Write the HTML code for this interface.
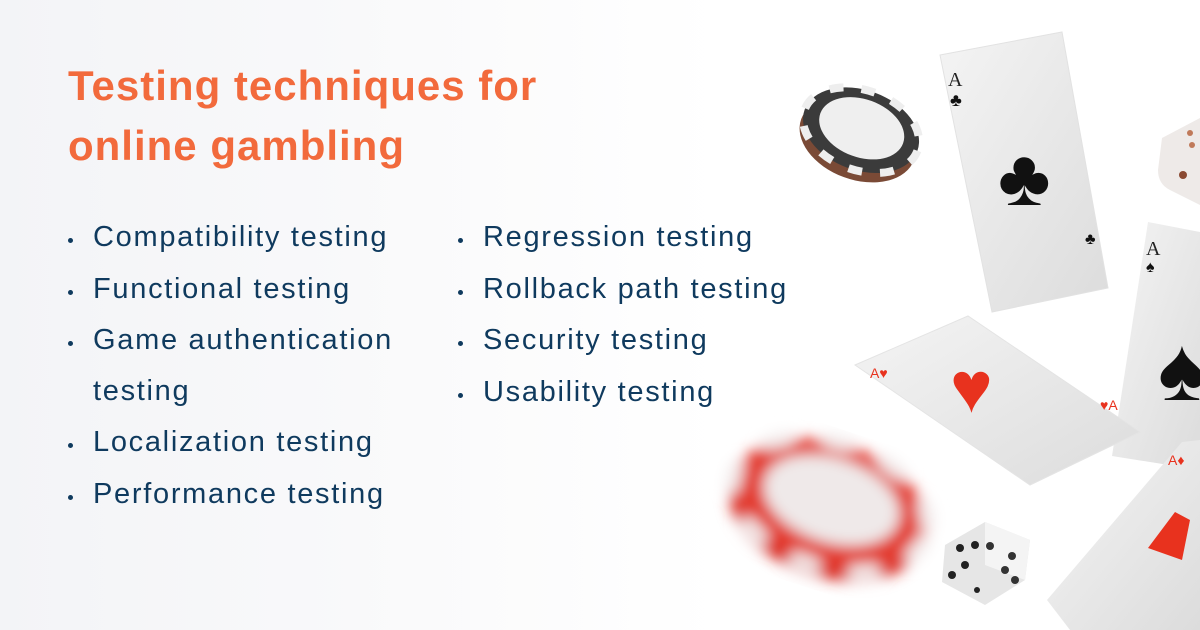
<!DOCTYPE html>
<html><head><meta charset="utf-8"><style>
html,body{margin:0;padding:0}
body{width:1200px;height:630px;position:relative;overflow:hidden;background:linear-gradient(90deg,#f3f4f7 0%,#fafafb 35%,#fff 60%);font-family:"Liberation Sans",sans-serif}
h1{position:absolute;left:68px;top:56px;margin:0;font-size:42px;line-height:60px;color:#f26a3c;font-weight:bold;letter-spacing:1px}
.li{position:absolute;font-size:29px;color:#0f3a5e;letter-spacing:1.7px;white-space:nowrap}
.li:before{content:"";position:absolute;left:-25px;top:17px;width:5px;height:5px;border-radius:50%;background:#0f3a5e}
.nb:before{display:none}
svg{position:absolute;left:0;top:0}
</style></head><body>
<h1>Testing techniques for<br>online gambling</h1>
<div class="li" style="left:93px;top:221px">Compatibility testing</div>
<div class="li" style="left:93px;top:273px">Functional testing</div>
<div class="li" style="left:93px;top:324px">Game authentication</div>
<div class="li nb" style="left:93px;top:375px">testing</div>
<div class="li" style="left:93px;top:426px">Localization testing</div>
<div class="li" style="left:93px;top:478px">Performance testing</div>
<div class="li" style="left:483px;top:221px">Regression testing</div>
<div class="li" style="left:483px;top:273px">Rollback path testing</div>
<div class="li" style="left:483px;top:324px">Security testing</div>
<div class="li" style="left:483px;top:376px">Usability testing</div>
<svg width="1200" height="630" viewBox="0 0 1200 630">
<defs>
<linearGradient id="cg" x1="0" y1="0" x2="1" y2="1"><stop offset="0" stop-color="#f4f4f4"/><stop offset="1" stop-color="#dcdcdc"/></linearGradient>
<filter id="bl"><feGaussianBlur stdDeviation="7"/></filter>
</defs>
<g transform="rotate(20 860 133)">
<ellipse cx="860" cy="140" rx="60" ry="40" fill="#7a4a36"/>
<ellipse cx="860" cy="130" rx="60" ry="40" fill="#3b3b3b"/>
<ellipse cx="860" cy="130" rx="60" ry="40" fill="none" stroke="#eee" stroke-width="8" stroke-dasharray="14 18"/>
<ellipse cx="860" cy="128" rx="44" ry="29" fill="#efefef"/>
</g>
<polygon points="940,55 1062,32 1108,288 992,312" fill="url(#cg)" stroke="#e2e2e2"/>
<text x="948" y="86" font-family="Liberation Serif" font-size="20" fill="#222">A</text>
<text x="950" y="106" font-size="18" fill="#111">♣</text>
<text x="998" y="205" font-size="80" fill="#111">♣</text>
<text x="1085" y="244" font-size="16" fill="#111">♣</text>
<polygon points="1148,222 1200,232 1200,470 1112,456" fill="url(#cg)"/>
<text x="1146" y="255" font-family="Liberation Serif" font-size="20" fill="#222">A</text>
<text x="1146" y="272" font-size="16" fill="#111">♠</text>
<text x="1158" y="400" font-size="90" fill="#111">♠</text>
<polygon points="855,365 968,316 1140,432 1030,485" fill="url(#cg)" stroke="#e4e4e4"/>
<text x="950" y="412" font-size="72" fill="#e8321e">♥</text>
<text x="870" y="378" font-size="14" fill="#e8321e">A♥</text>
<text x="1100" y="410" font-size="14" fill="#e8321e">♥A</text>
<polygon points="1182,442 1200,440 1200,630 1070,630 1047,600" fill="url(#cg)"/>
<polygon points="1175,512 1190,520 1182,560 1148,548" fill="#e8321e"/>
<text x="1168" y="465" font-size="14" fill="#e8321e">A♦</text>
<path d="M1162,138 L1200,118 L1200,205 L1170,190 Q1158,184 1158,170 Z" fill="#eeeae8"/>
<circle cx="1183" cy="175" r="4" fill="#8a4a32"/>
<circle cx="1190" cy="133" r="3" fill="#c07a5a"/>
<circle cx="1192" cy="145" r="3" fill="#c07a5a"/>
<g>
<polygon points="945,545 985,522 1030,540 1025,580 985,605 942,582" fill="#e6e6e6"/>
<polygon points="985,522 1030,540 1025,580 985,565" fill="#f4f4f4"/>
<circle cx="960" cy="548" r="4" fill="#222"/><circle cx="975" cy="545" r="4" fill="#222"/>
<circle cx="965" cy="565" r="4" fill="#222"/><circle cx="952" cy="575" r="4" fill="#222"/>
<circle cx="990" cy="546" r="4" fill="#333"/><circle cx="1012" cy="556" r="4" fill="#333"/>
<circle cx="1005" cy="570" r="4" fill="#333"/><circle cx="1015" cy="580" r="4" fill="#333"/>
<circle cx="977" cy="590" r="3" fill="#222"/>
</g>
<g filter="url(#bl)" transform="rotate(18 830 505)">
<ellipse cx="830" cy="515" rx="100" ry="62" fill="#d62a22"/>
<ellipse cx="830" cy="505" rx="100" ry="62" fill="#e33a2e"/>
<ellipse cx="830" cy="505" rx="100" ry="62" fill="none" stroke="#f2eaea" stroke-width="14" stroke-dasharray="30 30"/>
<ellipse cx="830" cy="500" rx="70" ry="42" fill="#efe9e9"/>
</g>
</svg>
</body></html>
